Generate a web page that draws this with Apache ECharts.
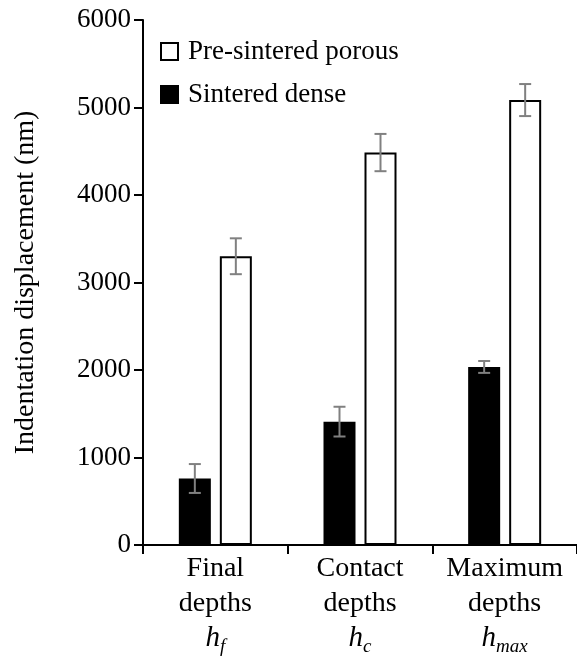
<!DOCTYPE html>
<html><head><meta charset="utf-8">
<script src="https://cdn.jsdelivr.net/npm/echarts@6/dist/echarts.min.js"></script>
<style>html,body{margin:0;padding:0;background:#fff}#c{width:577px;height:657px}</style>
</head><body><div id="c"></div>
<script>
const categories = ['Final\ndepths\n{i|h}{sub|f}', 'Contact\ndepths\n{i|h}{sub|c}', 'Maximum\ndepths\n{i|h}{sub|max}'];
const denseValues = [760, 1410, 2035];
const denseErr = [165, 170, 68];
const porousValues = [3300, 4485, 5085];
const porousErr = [205, 213, 183];
const yTicks = [0, 1000, 2000, 3000, 4000, 5000, 6000];

const FONT = '"Liberation Serif","Times New Roman",serif';
const FS = 27;
const BAR_W = 32, GAP = 9;
const OFF = (BAR_W + GAP) / 2;

function errSeries(name, vals, errs, sign) {
  return {
    type: 'custom', name: name + ' err', silent: true, z: 10,
    data: vals.map((v, i) => [i, v - errs[i], v + errs[i]]),
    renderItem: function (params, api) {
      const lo = api.coord([api.value(0), api.value(1)]);
      const hi = api.coord([api.value(0), api.value(2)]);
      const x = lo[0] + sign * OFF;
      const cw = 6;
      const st = { stroke: '#808080', lineWidth: 2 };
      return { type: 'group', children: [
        { type: 'line', shape: { x1: x, y1: lo[1], x2: x, y2: hi[1] }, style: st },
        { type: 'line', shape: { x1: x - cw, y1: lo[1], x2: x + cw, y2: lo[1] }, style: st },
        { type: 'line', shape: { x1: x - cw, y1: hi[1], x2: x + cw, y2: hi[1] }, style: st }
      ]};
    }
  };
}

const chart = echarts.init(document.getElementById('c'));
chart.setOption({
  animation: false,
  backgroundColor: '#fff',
  textStyle: { fontFamily: FONT },
  grid: { left: 143, right: 0, top: 20, bottom: 112, containLabel: false },
  legend: {
    data: ['Pre-sintered porous', 'Sintered dense'],
    orient: 'vertical', left: 155, top: 33, itemGap: 16,
    itemWidth: 17, itemHeight: 17, icon: 'rect',
    textStyle: { fontFamily: FONT, fontSize: FS, color: '#000', padding: [0, 0, 0, 5] }
  },
  xAxis: {
    type: 'category', data: categories,
    axisLine: { lineStyle: { color: '#000', width: 2 } },
    axisTick: { show: true, length: 9, lineStyle: { color: '#000', width: 2 } },
    axisLabel: {
      color: '#000', fontFamily: FONT, fontSize: 28, lineHeight: 35, margin: 6,
      interval: 0,
      rich: {
        i: { fontFamily: FONT, fontSize: 29, fontStyle: 'italic', color: '#000', lineHeight: 35 },
        sub: { fontFamily: FONT, fontSize: 19, fontStyle: 'italic', color: '#000', verticalAlign: 'bottom', lineHeight: 28 }
      }
    }
  },
  yAxis: {
    type: 'value', min: yTicks[0], max: yTicks[yTicks.length - 1], interval: 1000,
    name: 'Indentation displacement (nm)', nameLocation: 'middle', nameGap: 103,
    nameTextStyle: { fontFamily: FONT, fontSize: 28, color: '#000' },
    splitLine: { show: false },
    axisLine: { show: true, lineStyle: { color: '#000', width: 2 } },
    axisTick: { show: true, length: 9, lineStyle: { color: '#000', width: 2 } },
    axisLabel: { color: '#000', fontFamily: FONT, fontSize: FS, margin: 12,
      formatter: function (v) { return String(v); } }
  },
  series: [
    { name: 'Sintered dense', type: 'bar', data: denseValues, barWidth: BAR_W, barGap: (GAP / BAR_W * 100) + '%',
      itemStyle: { color: '#000', borderColor: '#000', borderWidth: 1.5 } },
    { name: 'Pre-sintered porous', type: 'bar', data: porousValues, barWidth: BAR_W,
      itemStyle: { color: '#fff', borderColor: '#000', borderWidth: 2 } },
    errSeries('Sintered dense', denseValues, denseErr, -1),
    errSeries('Pre-sintered porous', porousValues, porousErr, 1)
  ]
});
</script></body></html>
